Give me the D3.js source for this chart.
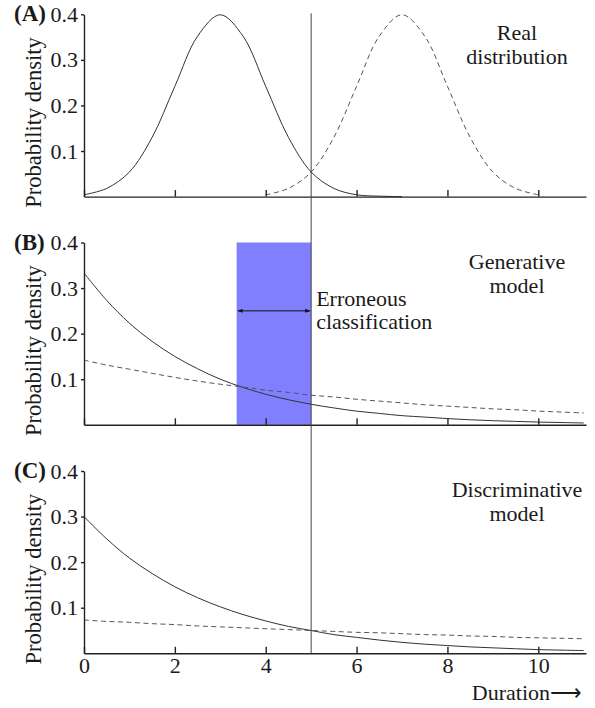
<!DOCTYPE html>
<html>
<head>
<meta charset="utf-8">
<script src="https://cdn.jsdelivr.net/npm/d3@7"></script>
<style>
  body { margin: 0; background: #fff; }
  svg text { font-family: "Liberation Serif", serif !important; }
</style>
</head>
<body>
<div id="chart"></div>
<script>
// durations sampled along the x axis
var durations = [0, 0.5, 1, 1.5, 2, 2.5, 3, 3.5, 4, 4.5, 5, 5.5, 6, 6.5, 7, 7.5, 8, 8.5, 9, 9.5, 10, 10.5, 11];

// (A) real distribution, short and long
var realShort = [0.004, 0.018, 0.054, 0.130, 0.242, 0.352, 0.399, 0.352, 0.242, 0.130, 0.054, 0.018, 0.004, 0.001, 0.000,
                 null, null, null, null, null, null, null, null];
var realLong  = [null, null, null, null, null, null, null, null, 0.004, 0.018, 0.054, 0.130, 0.242, 0.352, 0.399,
                 0.352, 0.242, 0.130, 0.054, 0.018, 0.004, null, null];

// (B) generative model
var genShort = [0.333, 0.273, 0.223, 0.183, 0.150, 0.123, 0.100, 0.082, 0.067, 0.055, 0.045, 0.037, 0.030,
                0.025, 0.020, 0.017, 0.0136, 0.011, 0.009, 0.0075, 0.006, 0.005, 0.004];
var genLong  = [0.142, 0.131, 0.122, 0.113, 0.104, 0.096, 0.089, 0.083, 0.076, 0.071, 0.065, 0.061, 0.056,
                0.052, 0.048, 0.044, 0.041, 0.038, 0.035, 0.033, 0.030, 0.028, 0.026];

// (C) discriminative model
var discShort = [0.300, 0.251, 0.209, 0.175, 0.146, 0.122, 0.102, 0.085, 0.071, 0.059, 0.050, 0.041, 0.035,
                 0.029, 0.024, 0.020, 0.017, 0.014, 0.012, 0.010, 0.008, 0.007, 0.006];
var discLong  = [0.073, 0.070, 0.068, 0.065, 0.063, 0.060, 0.058, 0.056, 0.054, 0.052, 0.050, 0.048, 0.046,
                 0.045, 0.043, 0.041, 0.040, 0.038, 0.037, 0.035, 0.034, 0.033, 0.032];

var xTicks = [0, 2, 4, 6, 8, 10];
var yTicks = [0.1, 0.2, 0.3, 0.4];
var threshold = 5;          // decision boundary
var errorBand = [3.36, 5];  // erroneous classification range

var panels = [
  {tag: "(A)", note: ["Real", "distribution"], solid: realShort, dashed: realLong, base: 196.6},
  {tag: "(B)", note: ["Generative", "model"], solid: genShort, dashed: genLong, base: 424.8},
  {tag: "(C)", note: ["Discriminative", "model"], solid: discShort, dashed: discLong, base: 653.3}
];

var FONT = "Liberation Serif";
var width = 595, height = 708;
var svg = d3.select("#chart").append("svg")
  .attr("width", width)
  .attr("height", height)
  .attr("font-family", FONT);

svg.append("defs").append("marker")
  .attr("id", "head")
  .attr("viewBox", "0 0 10 10")
  .attr("refX", 10).attr("refY", 5)
  .attr("markerWidth", 5).attr("markerHeight", 5)
  .attr("orient", "auto-start-reverse")
  .append("path")
  .attr("d", "M0,1L10,5L0,9Z")
  .attr("fill", "#111");

var x = d3.scaleLinear().domain([0, 11.05]).range([84, 586]);

var ys = panels.map(function(p) {
  return d3.scaleLinear().domain([0, 0.4]).range([p.base, p.base - 182.3]);
});

panels.forEach(function(p, i) {
  var y = ys[i];
  var g = svg.append("g");

  // blue band only on panel B
  if (i == 1) {
    g.append("rect")
      .attr("x", x(errorBand[0]))
      .attr("y", y(0.4))
      .attr("width", x(errorBand[1]) - x(errorBand[0]))
      .attr("height", y(0) - y(0.4))
      .attr("fill", "#8080ff");
  }

  var line = d3.line()
    .defined(function(d) { return d[1] != null; })
    .x(function(d) { return x(d[0]); })
    .y(function(d) { return y(d[1]); })
    .curve(d3.curveCatmullRom.alpha(0.5));

  g.append("path")
    .datum(durations.map(function(t, k) { return [t, p.solid[k]]; }))
    .attr("d", line)
    .attr("fill", "none")
    .attr("stroke", "#333")
    .attr("stroke-width", 1);

  g.append("path")
    .datum(durations.map(function(t, k) { return [t, p.dashed[k]]; }))
    .attr("d", line)
    .attr("fill", "none")
    .attr("stroke", "#555")
    .attr("stroke-width", 1)
    .attr("stroke-dasharray", "5,3.5");

  // axes
  var xAxis = d3.axisBottom(x)
    .tickValues(xTicks)
    .tickSizeInner(-6.5)
    .tickSizeOuter(0)
    .tickPadding(4)
    .tickFormat(i == 2 ? d3.format("d") : function() { return ""; });

  var ax = g.append("g")
    .attr("transform", "translate(0," + y(0) + ")")
    .call(xAxis);

  var yAxis = d3.axisLeft(y)
    .tickValues(yTicks)
    .tickSizeInner(3)
    .tickSizeOuter(0)
    .tickPadding(3)
    .tickFormat(d3.format(".1f"));

  var ay = g.append("g")
    .attr("transform", "translate(" + x(0) + ",0)")
    .call(yAxis);

  [ax, ay].forEach(function(a) {
    a.attr("font-family", FONT).attr("font-size", 22);
    a.selectAll("path, line").attr("stroke", "#222").attr("stroke-width", 1.4);
    a.selectAll("text").attr("fill", "#1a1a1a").attr("font-family", FONT);
  });

  // panel tag
  g.append("text")
    .attr("x", 14)
    .attr("y", y(0.4) + 7)
    .attr("font-family", FONT)
    .attr("font-size", 23)
    .attr("font-weight", "bold")
    .attr("fill", "#1a1a1a")
    .text(p.tag);

  // y label
  g.append("text")
    .attr("transform", "translate(41," + (y(0.2) + 17) + ") rotate(-90)")
    .attr("text-anchor", "middle")
    .attr("font-family", FONT)
    .attr("font-size", 22.5)
    .attr("fill", "#1a1a1a")
    .text("Probability density");

  // panel note
  g.selectAll(".note")
    .data(p.note)
    .enter()
    .append("text")
    .attr("x", 517)
    .attr("y", function(d, k) { return y(0.4) + 26 + k * 24; })
    .attr("text-anchor", "middle")
    .attr("font-family", FONT)
    .attr("font-size", 22)
    .attr("fill", "#1a1a1a")
    .text(function(d) { return d; });
});

// double arrow inside the band
svg.append("line")
  .attr("x1", x(errorBand[0]) + 1)
  .attr("x2", x(errorBand[1]) - 1)
  .attr("y1", ys[1](0.25))
  .attr("y2", ys[1](0.25))
  .attr("stroke", "#111")
  .attr("stroke-width", 1)
  .attr("marker-start", "url(#head)")
  .attr("marker-end", "url(#head)");

svg.selectAll(".err")
  .data(["Erroneous", "classification"])
  .enter()
  .append("text")
  .attr("x", x(threshold) + 5)
  .attr("y", function(d, k) { return 306 + k * 23; })
  .attr("font-family", FONT)
  .attr("font-size", 22)
  .attr("fill", "#1a1a1a")
  .text(function(d) { return d; });

// threshold line through all panels
svg.append("line")
  .attr("x1", x(threshold)).attr("x2", x(threshold))
  .attr("y1", ys[0](0.4) - 1)
  .attr("y2", ys[2](0))
  .attr("stroke", "#444")
  .attr("stroke-width", 1);

svg.append("text")
  .attr("x", 582)
  .attr("y", 700)
  .attr("text-anchor", "end")
  .attr("font-family", FONT)
  .attr("font-size", 22)
  .attr("fill", "#1a1a1a")
  .text("Duration\u27F6");
</script>
</body>
</html>
